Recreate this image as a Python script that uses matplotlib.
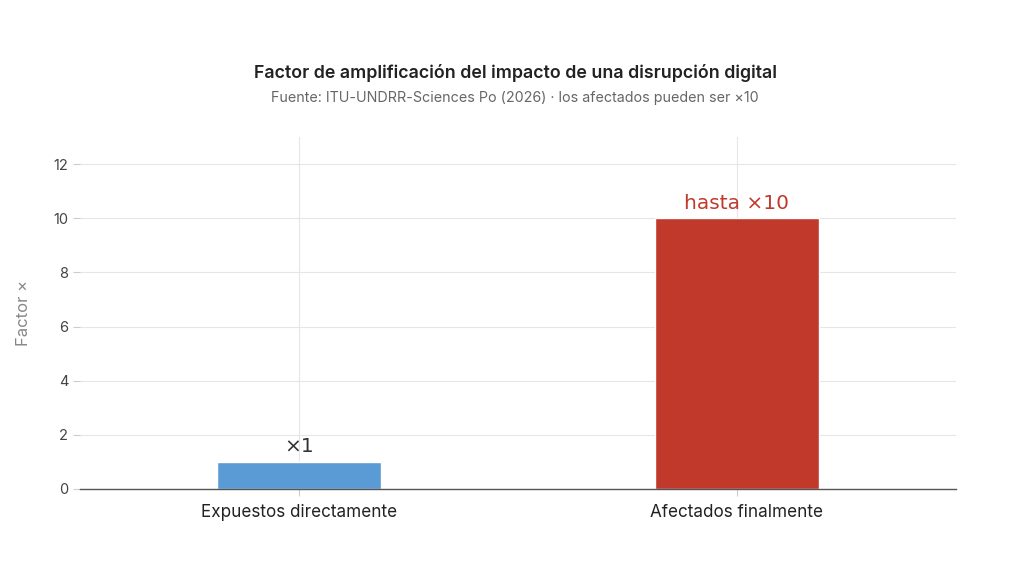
import matplotlib.pyplot as plt

categories = ['Expuestos directamente', 'Afectados finalmente']
factors = [1, 10]
labels = ['×1', 'hasta ×10']
colors = ['#5B9BD5', '#C0392B']
label_colors = ['#333333', '#C0392B']

plt.rcParams['font.family'] = ['Inter', 'DejaVu Sans']

fig = plt.figure(figsize=(10.24, 5.69), dpi=100)
ax = fig.add_axes([80 / 1024, 1 - 489 / 569, 876 / 1024, 352 / 569])

x = range(len(categories))
bars = ax.bar(x, factors, width=0.375, color=colors, edgecolor='white',
              linewidth=1, zorder=2)

for bar, text, tc in zip(bars, labels, label_colors):
    ax.annotate(text, (bar.get_x() + bar.get_width() / 2, bar.get_height()),
                xytext=(0, 4), textcoords='offset points', ha='center',
                va='bottom', fontsize=14.5, color=tc, family='DejaVu Sans',
                zorder=3)

ax.set_xlim(-0.5, 1.5)
ax.set_ylim(0, 13)
ax.set_yticks([0, 2, 4, 6, 8, 10, 12])
ax.set_xticks(list(x))
ax.set_xticklabels(categories, fontsize=12.3, color='#222222')
ax.tick_params(axis='y', labelsize=10.5, colors='#444444', length=5,
               color='#cccccc')
ax.tick_params(axis='x', length=5, color='#cccccc', pad=6)
ax.grid(True, color='#e6e6e6', linewidth=0.8, zorder=0)
ax.set_axisbelow(True)
for s in ['top', 'right', 'left']:
    ax.spines[s].set_visible(False)
ax.spines['bottom'].set_color('#555555')
ax.spines['bottom'].set_linewidth(1)
ax.spines['bottom'].set_zorder(3)

ax.set_ylabel('Factor ×', fontsize=12, color='#888888', labelpad=16)

fig.text(0.503, 1 - 73 / 569, 'Factor de amplificación del impacto de una disrupción digital',
         ha='center', va='center', fontsize=12.8, fontweight='semibold',
         color='#222222')
fig.text(0.503, 1 - 98 / 569, 'Fuente: ITU-UNDRR-Sciences Po (2026) · los afectados pueden ser ×10',
         ha='center', va='center', fontsize=10.3, color='#666666')

fig.savefig('out.png', dpi=100, facecolor='white')
